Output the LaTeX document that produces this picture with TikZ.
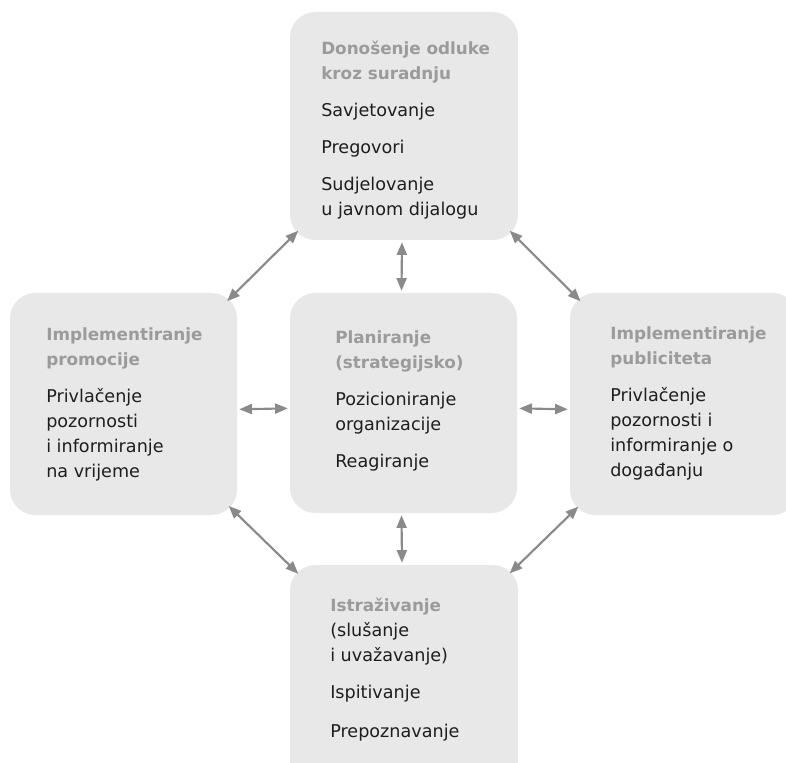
\documentclass[tikz,border=0pt]{standalone}
\usepackage{fontspec}
\setmainfont{DejaVu Sans}
\usetikzlibrary{arrows.meta}
\definecolor{boxfill}{HTML}{E8E8E8}
\definecolor{headgray}{HTML}{9B9B9B}
\definecolor{bodytext}{HTML}{1E1E1E}
\definecolor{arrowgray}{HTML}{8A8A8A}
\tikzset{
  box/.style={draw=none, fill=boxfill, rounded corners=19pt, inner sep=0pt},
  txt/.style={anchor=north west, inner sep=0pt, align=left, text=bodytext,
    font=\fontsize{13.2}{18.75}\selectfont},
  arr/.style={draw=arrowgray, line width=1.6pt, {Triangle[length=9.5pt,width=7.5pt]}-{Triangle[length=9.5pt,width=7.5pt]}},
  diag/.style={arr, shorten <=-9pt, shorten >=-9pt},
  straight/.style={arr, shorten <=1.5pt, shorten >=1.5pt}
}
\newcommand{\hd}[1]{{\fontsize{12.6}{18.75}\selectfont\bfseries\color{headgray}#1}}
\begin{document}
\begin{tikzpicture}[x=0.75pt,y=-0.75pt]
\useasboundingbox (0,0) rectangle (786,763);
\clip (0,0) rectangle (786,763);
% boxes
\node[box, minimum width=171pt, minimum height=171pt] (top) at (404,126) {};
\node[box, minimum width=170.25pt, minimum height=166.5pt] (left) at (123.5,404) {};
\node[box, minimum width=170.25pt, minimum height=165pt] (center) at (403.5,403) {};
\node[box, minimum width=171pt, minimum height=166.5pt] (right) at (684,404) {};
\node[box, minimum width=171pt, minimum height=166.5pt] (bottom) at (404,676) {};
% texts
\node[txt] (ttop) at (321,41) {\hd{Donošenje odluke}\\\hd{kroz suradnju}\\[9pt]Savjetovanje\\[9pt]Pregovori\\[9pt]Sudjelovanje\\u javnom dijalogu};
\node[txt] (tleft) at (46,327) {\hd{Implementiranje}\\\hd{promocije}\\[9pt]Privlačenje\\pozornosti\\i informiranje\\na vrijeme};
\node[txt] (tcenter) at (335,330) {\hd{Planiranje}\\\hd{(strategijsko)}\\[9pt]Pozicioniranje\\organizacije\\[9pt]Reagiranje};
\node[txt] (tright) at (610,326) {\hd{Implementiranje}\\\hd{publiciteta}\\[9pt]Privlačenje\\pozornosti i\\informiranje o\\događanju};
\node[txt] (tbottom) at (330,598) {\hd{Istraživanje}\\(slušanje\\i uvažavanje)\\[9pt]Ispitivanje\\[10pt]Prepoznavanje};
% connectors
\draw[diag] (top) -- (left);
\draw[diag] (top) -- (right);
\draw[diag] (left) -- (bottom);
\draw[diag] (right) -- (bottom);
\draw[straight] ([xshift=-1.5pt]top.south) -- ([xshift=-1.5pt]center.north);
\draw[straight] ([xshift=-1.5pt]center.south) -- ([xshift=-1.5pt]bottom.north);
\draw[straight] ([yshift=-4pt]left.east) -- ([yshift=-4pt]center.west);
\draw[straight] ([yshift=-4pt]center.east) -- ([yshift=-4pt]right.west);
\end{tikzpicture}
\end{document}
